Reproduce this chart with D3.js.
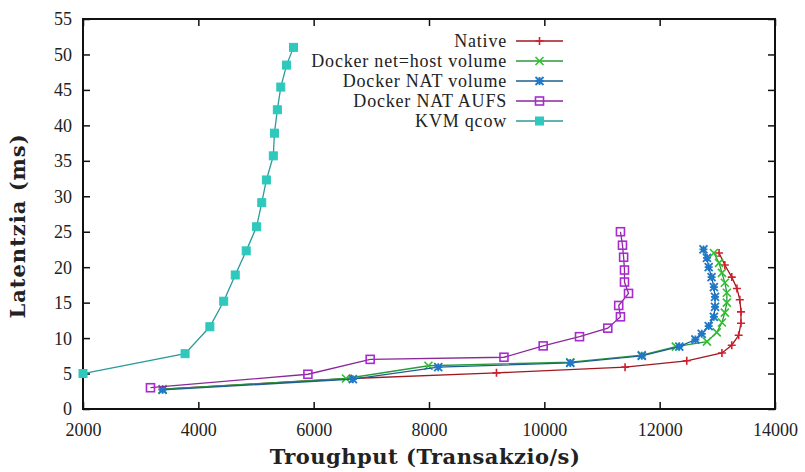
<!DOCTYPE html>
<html><head><meta charset="utf-8">
<script src="https://cdn.jsdelivr.net/npm/d3@7/dist/d3.min.js"></script>
<style>body{margin:0;background:#fff}svg{display:block}</style>
</head><body>
<svg id="chart" width="805" height="472"></svg>
<script>
const xTicks = [2000,4000,6000,8000,10000,12000,14000];
const yTicks = [0,5,10,15,20,25,30,35,40,45,50,55];
const seriesNames = ["Native","Docker net=host volume","Docker NAT volume","Docker NAT AUFS","KVM qcow"];
const native = [[3380,2.8],[6650,4.3],[9170,5.1],[11400,5.9],[12470,6.8],[13080,7.9],[13250,9.0],[13370,10.4],[13410,12.1],[13410,13.7],[13390,15.4],[13340,17.0],[13250,18.6],[13130,20.3],[13030,22.0]];
const netHost = [[3380,2.8],[6560,4.3],[7990,6.1],[10450,6.6],[11690,7.6],[12280,8.8],[12820,9.5],[12990,10.8],[13080,12.2],[13130,13.6],[13165,15.0],[13165,16.4],[13130,17.8],[13080,19.2],[13030,20.6],[12940,22.0]];
const natVolume = [[3380,2.7],[6680,4.2],[8160,5.9],[10450,6.5],[11690,7.5],[12340,8.8],[12620,9.8],[12730,10.6],[12850,11.7],[12940,13.0],[12960,14.4],[12960,15.8],[12940,17.2],[12900,18.6],[12850,20.0],[12820,21.3],[12760,22.5]];
const natAufs = [[3170,3.0],[5900,4.9],[6980,7.0],[9300,7.3],[9980,8.9],[10610,10.2],[11100,11.4],[11320,13.0],[11290,14.6],[11460,16.3],[11390,17.9],[11390,19.6],[11375,21.4],[11355,23.1],[11320,25.0]];
const kvm = [[2000,5.0],[3770,7.8],[4200,11.6],[4440,15.2],[4640,18.9],[4830,22.3],[5010,25.7],[5100,29.1],[5180,32.3],[5300,35.7],[5320,38.9],[5370,42.2],[5430,45.4],[5530,48.5],[5650,51.0]];

const series = [
  {name: seriesNames[0], data: native, color: "#d0202e", line: "#a01820", marker: "plus"},
  {name: seriesNames[1], data: netHost, color: "#2fbf2f", line: "#2a9a3a", marker: "cross"},
  {name: seriesNames[2], data: natVolume, color: "#1f78c8", line: "#1d5f8f", marker: "star"},
  {name: seriesNames[3], data: natAufs, color: "#a82ad0", line: "#8a2a9a", marker: "square"},
  {name: seriesNames[4], data: kvm, color: "#2ec8bc", line: "#2a9a9a", marker: "fsquare"}
];

const svg = d3.select("#chart");
const L = 83, R = 775, T = 19, B = 409;
const x = d3.scaleLinear().domain([2000,14000]).range([L,R]);
const y = d3.scaleLinear().domain([0,55]).range([B,T]);
const serif = "'Liberation Serif','Times New Roman',serif";

const gx = svg.append("g").attr("transform",`translate(0,${B})`)
  .call(d3.axisBottom(x).tickValues(xTicks).tickSize(-7).tickPadding(14).tickFormat(d3.format("d")));
const gxt = svg.append("g").attr("transform",`translate(0,${T})`)
  .call(d3.axisTop(x).tickValues(xTicks).tickSize(-7).tickFormat(""));
const gy = svg.append("g").attr("transform",`translate(${L},0)`)
  .call(d3.axisLeft(y).tickValues(yTicks).tickSize(-7).tickPadding(11).tickFormat(d3.format("d")));
const gyr = svg.append("g").attr("transform",`translate(${R},0)`)
  .call(d3.axisRight(y).tickValues(yTicks).tickSize(-7).tickFormat(""));
[gx,gxt,gy,gyr].forEach(g=>{
  g.select(".domain").remove();
  g.selectAll(".tick line").attr("stroke","#111").attr("stroke-width",1.5);
  g.selectAll("text").attr("font-family",serif).attr("font-size",18).attr("fill","#222");
});
gy.selectAll("text").attr("dy","0.33em");

svg.append("rect").attr("x",L).attr("y",T).attr("width",R-L).attr("height",B-T)
  .attr("fill","none").attr("stroke","#111").attr("stroke-width",2);

svg.append("text").attr("x",(L+R)/2 - 4).attr("y",464).attr("text-anchor","middle")
  .attr("font-family","'DejaVu Serif',serif").attr("font-weight","bold").attr("font-size",21)
  .attr("letter-spacing",0.5).attr("fill","#222").text("Troughput (Transakzio/s)");
svg.append("text").attr("transform",`translate(25,226) rotate(-90)`).attr("text-anchor","middle")
  .attr("font-family","'DejaVu Serif',serif").attr("font-weight","bold").attr("font-size",21)
  .attr("letter-spacing",1).attr("fill","#222").text("Latentzia (ms)");

function drawMarker(g, cx, cy, type, color){
  const s = 4;
  if(type==="plus"){
    g.append("path").attr("d",`M${cx-s},${cy}H${cx+s}M${cx},${cy-s}V${cy+s}`).attr("stroke",color).attr("stroke-width",1.6);
  } else if(type==="cross"){
    g.append("path").attr("d",`M${cx-s},${cy-s}L${cx+s},${cy+s}M${cx-s},${cy+s}L${cx+s},${cy-s}`).attr("stroke",color).attr("stroke-width",1.6);
  } else if(type==="star"){
    g.append("path").attr("d",`M${cx-s},${cy}H${cx+s}M${cx},${cy-s}V${cy+s}M${cx-s},${cy-s}L${cx+s},${cy+s}M${cx-s},${cy+s}L${cx+s},${cy-s}`).attr("stroke",color).attr("stroke-width",1.8);
    g.append("circle").attr("cx",cx).attr("cy",cy).attr("r",2.5).attr("fill",color);
  } else if(type==="square"){
    g.append("rect").attr("x",cx-s).attr("y",cy-s).attr("width",2*s).attr("height",2*s).attr("fill","none").attr("stroke",color).attr("stroke-width",1.6);
  } else {
    g.append("rect").attr("x",cx-s).attr("y",cy-s).attr("width",2*s).attr("height",2*s).attr("fill",color).attr("stroke",color).attr("stroke-width",1);
  }
}

const line = d3.line().x(d=>x(d[0])).y(d=>y(d[1]));
const plot = svg.append("g");
series.forEach(s=>{
  plot.append("path").datum(s.data).attr("d",line).attr("fill","none")
    .attr("stroke",s.line).attr("stroke-width",1.3);
  const mg = plot.append("g");
  s.data.forEach(d=>drawMarker(mg, x(d[0]), y(d[1]), s.marker, s.color));
});

const lg = svg.append("g");
series.forEach((s,i)=>{
  const ly = 41 + i*20;
  lg.append("text").attr("x",507).attr("y",ly).attr("dy","0.33em").attr("text-anchor","end")
    .attr("font-family",serif).attr("font-size",18).attr("letter-spacing",0.8).attr("fill","#222").text(s.name);
  lg.append("line").attr("x1",516).attr("x2",563).attr("y1",ly).attr("y2",ly)
    .attr("stroke",s.line).attr("stroke-width",1.3);
  drawMarker(lg, 539.5, ly, s.marker, s.color);
});
</script>
</body></html>
